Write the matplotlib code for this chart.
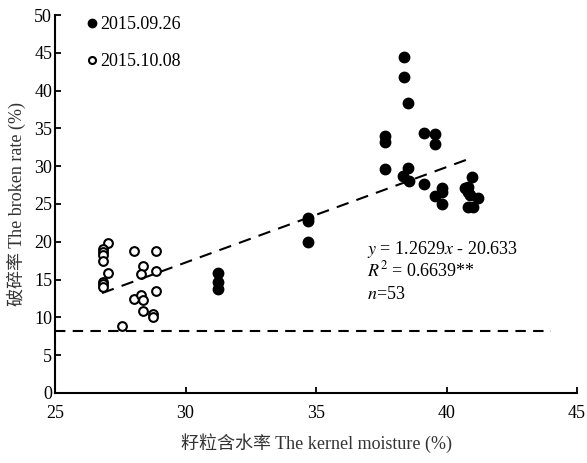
import numpy as np
import matplotlib
matplotlib.use('Agg')
import matplotlib.pyplot as plt

plt.rcParams['font.family'] = ['Liberation Serif', 'Noto Sans CJK SC']
plt.rcParams['mathtext.fontset'] = 'stix'

# 2015.09.26 (filled)
x_0926 = [37.66, 37.66, 37.66, 38.37, 38.37, 38.54, 39.14, 39.56, 39.56, 38.54,
          38.35, 38.57, 39.14, 39.82, 39.82, 39.56, 39.82, 40.99, 40.71, 40.84,
          40.84, 40.90, 41.22, 40.84, 41.03, 31.25, 31.25, 31.25, 34.69, 34.69,
          34.69]
y_0926 = [34.0, 33.2, 29.6, 44.4, 41.8, 38.4, 34.4, 34.3, 32.9, 29.8,
          28.7, 28.1, 27.7, 27.1, 26.6, 26.1, 25.0, 28.6, 27.1, 27.3,
          26.6, 26.2, 25.8, 24.6, 24.6, 15.9, 14.7, 13.8, 23.1, 22.8,
          20.0]

# 2015.10.08 (open)
x_1008 = [27.04, 26.85, 26.85, 26.85, 26.85, 27.04, 26.85, 26.85, 26.85, 28.03,
          28.86, 28.38, 28.30, 28.86, 28.03, 28.30, 28.38, 28.86, 28.38, 28.77,
          28.77, 27.55]
y_1008 = [19.8, 19.0, 18.6, 18.2, 17.5, 15.9, 14.7, 14.4, 14.0, 18.8,
          18.8, 16.8, 15.7, 16.1, 12.4, 13.0, 12.3, 13.5, 10.9, 10.5,
          10.0, 8.9]

slope, intercept = 1.2629, -20.633
fit_range = [26.8, 41.0]
threshold = 8.2

fig = plt.figure(figsize=(5.87, 4.63), dpi=100)
ax = fig.add_axes([0.0937, 0.1512, 0.8893, 0.8164])

ax.plot(x_0926, y_0926, 'o', color='black', markersize=7.5, label='2015.09.26')
ax.plot(x_1008, y_1008, 'o', markerfacecolor='white', markeredgecolor='black',
        markeredgewidth=1.5, markersize=6.3, label='2015.10.08')

xf = np.array(fit_range)
ax.plot(xf, slope * xf + intercept, color='black', lw=1.5, dashes=(6, 4))
ax.plot([25, 44], [threshold, threshold], color='black', lw=1.5, dashes=(5, 3.5))

ax.set_xlim(25, 45)
ax.set_ylim(0, 50)
ax.set_xticks([25, 30, 35, 40, 45])
ax.set_yticks(range(0, 51, 5))
ax.spines['top'].set_visible(False)
ax.spines['right'].set_visible(False)
ax.spines['left'].set_linewidth(1.5)
ax.spines['bottom'].set_linewidth(1.5)
ax.tick_params(direction='in', length=4, width=1.3, labelsize=13)
ax.tick_params(axis='x', pad=9)
ax.tick_params(axis='y', pad=2)

ax.set_xlabel('籽粒含水率 The kernel moisture (%)', fontsize=13, color='#333333', labelpad=8)
ax.set_ylabel('破碎率 The broken rate (%)', fontsize=13, color='#333333', labelpad=6)

ax.legend(loc='upper left', bbox_to_anchor=(0.025, 1.04), frameon=False, fontsize=13,
          handletextpad=0.1, handlelength=0.8, labelspacing=1.1, markerscale=0.8)

ax.text(0.597, 0.369, '$\\it{y}$ = 1.2629$\\it{x}$ - 20.633', transform=ax.transAxes, fontsize=13)
ax.text(0.597, 0.309, '$\\it{R}^2$ = 0.6639**', transform=ax.transAxes, fontsize=13)
ax.text(0.597, 0.249, '$\\it{n}$=53', transform=ax.transAxes, fontsize=13)

fig.savefig('out.png', dpi=100)
